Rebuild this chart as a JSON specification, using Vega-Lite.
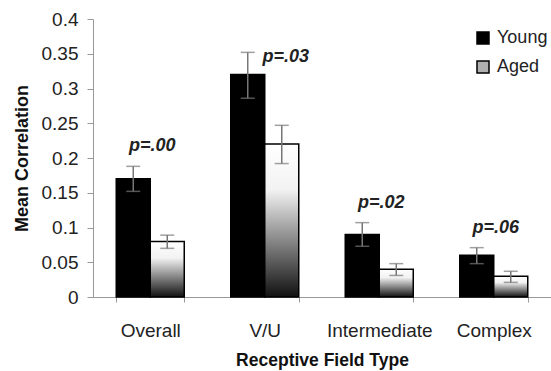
{
  "$schema": "https://vega.github.io/schema/vega-lite/v6.json",
  "width": 458,
  "height": 278,
  "autosize": {"type": "none"},
  "padding": {"left": 93, "top": 19, "right": 0, "bottom": 74},
  "background": "white",
  "config": {"font": "Liberation Sans", "view": {"stroke": null}},
  "data": {
    "values": [
      {"category": "Overall", "group": "Young", "value": 0.17, "lo": 0.152, "hi": 0.188, "p": "p=.00"},
      {"category": "Overall", "group": "Aged", "value": 0.08, "lo": 0.07, "hi": 0.089},
      {"category": "V/U", "group": "Young", "value": 0.32, "lo": 0.286, "hi": 0.352, "p": "p=.03"},
      {"category": "V/U", "group": "Aged", "value": 0.22, "lo": 0.192, "hi": 0.247},
      {"category": "Intermediate", "group": "Young", "value": 0.09, "lo": 0.073, "hi": 0.107, "p": "p=.02"},
      {"category": "Intermediate", "group": "Aged", "value": 0.04, "lo": 0.031, "hi": 0.048},
      {"category": "Complex", "group": "Young", "value": 0.06, "lo": 0.048, "hi": 0.071, "p": "p=.06"},
      {"category": "Complex", "group": "Aged", "value": 0.03, "lo": 0.021, "hi": 0.037}
    ]
  },
  "encoding": {
    "x": {
      "field": "category",
      "type": "nominal",
      "sort": ["Overall", "V/U", "Intermediate", "Complex"],
      "scale": {"paddingInner": 0.406, "paddingOuter": 0.203},
      "axis": {
        "title": "Receptive Field Type",
        "labelAngle": 0,
        "tickBand": "extent",
        "tickSize": 5,
        "tickColor": "#999",
        "domainColor": "#999",
        "labelFontSize": 19,
        "labelColor": "#222",
        "labelPadding": 19,
        "titleFontSize": 17.5,
        "titleFontWeight": "bold",
        "titleColor": "#111",
        "titlePadding": 11
      }
    },
    "xOffset": {"field": "group", "type": "nominal", "scale": {"domain": ["Young", "Aged"], "paddingInner": 0, "paddingOuter": 0}},
    "y": {
      "field": "value",
      "type": "quantitative",
      "scale": {"domain": [0, 0.4], "nice": false},
      "axis": {
        "title": "Mean Correlation",
        "values": [0, 0.05, 0.1, 0.15, 0.2, 0.25, 0.3, 0.35, 0.4],
        "format": "~g",
        "grid": false,
        "domainColor": "#999",
        "tickColor": "#999",
        "tickSize": 6,
        "labelFontSize": 19,
        "labelColor": "#222",
        "labelPadding": 9,
        "titleFontSize": 18,
        "titleFontWeight": "bold",
        "titleColor": "#111",
        "titlePadding": 10
      }
    }
  },
  "layer": [
    {
      "transform": [{"filter": "datum.group === 'Young'"}],
      "mark": {"type": "bar", "color": "black", "stroke": "black", "strokeWidth": 1.5}
    },
    {
      "transform": [{"filter": "datum.group === 'Aged'"}],
      "mark": {
        "type": "bar",
        "stroke": "black",
        "strokeWidth": 1.5,
        "color": {"gradient": "linear", "x1": 0, "y1": 0, "x2": 0, "y2": 1,
          "stops": [{"offset": 0, "color": "white"}, {"offset": 0.3, "color": "#f2f2f2"}, {"offset": 1, "color": "#111"}]}
      }
    },
    {
      "mark": {"type": "square", "size": 0, "opacity": 0},
      "encoding": {
        "color": {
          "field": "group",
          "type": "nominal",
          "scale": {"domain": ["Young", "Aged"], "range": ["black", "#b0b0b0"]},
          "legend": {
            "title": null,
            "orient": "none",
            "legendX": 381,
            "legendY": 10,
            "symbolType": "square",
            "symbolSize": 144,
            "symbolOpacity": 1,
            "symbolStrokeColor": "black",
            "symbolStrokeWidth": 1.5,
            "labelFontSize": 18,
            "labelColor": "#222",
            "labelOffset": 5,
            "rowPadding": 11
          }
        }
      }
    },
    {
      "mark": {"type": "rule", "color": "#777", "strokeWidth": 1.5},
      "encoding": {
        "y": {"field": "lo", "type": "quantitative"},
        "y2": {"field": "hi"}
      }
    },
    {
      "mark": {"type": "tick", "color": "#777", "thickness": 1.5, "size": 14, "orient": "horizontal"},
      "encoding": {
        "y": {"field": "lo", "type": "quantitative"}
      }
    },
    {
      "mark": {"type": "tick", "color": "#777", "thickness": 1.5, "size": 14, "orient": "horizontal"},
      "encoding": {
        "y": {"field": "hi", "type": "quantitative"}
      }
    },
    {
      "transform": [{"filter": "datum.group === 'Young' && datum.category !== 'V/U'"}],
      "mark": {"type": "text", "font": "Liberation Sans", "fontSize": 18, "fontWeight": "bold", "fontStyle": "italic", "color": "#222", "baseline": "middle", "dx": 19, "dy": -20},
      "encoding": {
        "y": {"field": "hi", "type": "quantitative"},
        "text": {"field": "p"}
      }
    },
    {
      "transform": [{"filter": "datum.category === 'V/U' && datum.group === 'Young'"}],
      "mark": {"type": "text", "font": "Liberation Sans", "fontSize": 18, "fontWeight": "bold", "fontStyle": "italic", "color": "#222", "baseline": "middle", "dx": 38, "dy": 5},
      "encoding": {
        "y": {"field": "hi", "type": "quantitative"},
        "text": {"field": "p"}
      }
    }
  ]
}
